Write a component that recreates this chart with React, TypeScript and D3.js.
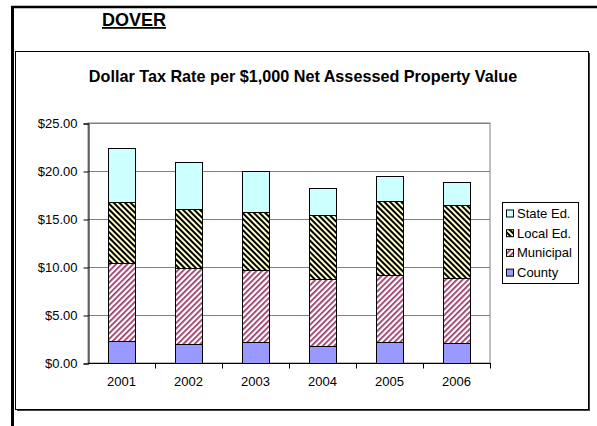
import React, { useEffect, useRef } from 'react';
import * as d3 from 'd3';

const years = ['2001', '2002', '2003', '2004', '2005', '2006'];
const county = [2.25, 1.98, 2.19, 1.80, 2.15, 2.04];
const municipal = [8.17, 7.92, 7.50, 6.91, 7.05, 6.77];
const localEd = [6.36, 6.14, 6.00, 6.71, 7.68, 7.65];
const stateEd = [5.62, 4.86, 4.27, 2.81, 2.63, 2.35];
const seriesNames = ['County', 'Municipal', 'Local Ed.', 'State Ed.'];
const legendOrder = ['State Ed.', 'Local Ed.', 'Municipal', 'County'];
const yTicks = [0, 5, 10, 15, 20, 25];

const fills: Record<string, string> = {
    'County': '#9999ff',
    'Municipal': 'url(#muni)',
    'Local Ed.': 'url(#local)',
    'State Ed.': '#ccffff'
};

const font = '"Liberation Sans", Arial, sans-serif';

export default function App() {
    const ref = useRef<SVGSVGElement>(null);

    useEffect(() => {
        const width = 597;
        const height = 426;
        const margin = { left: 88, right: 107, top: 123, bottom: 63 };

        const svg = d3.select(ref.current);
        svg.selectAll('*').remove();

        // patterns for hatched series
        const defs = svg.append('defs');
        const muni = defs.append('pattern').attr('id', 'muni')
            .attr('patternUnits', 'userSpaceOnUse')
            .attr('width', 4).attr('height', 4)
            .attr('patternTransform', 'rotate(45)');
        muni.append('rect').attr('width', 4).attr('height', 4).attr('fill', '#fff');
        muni.append('rect').attr('width', 1.7).attr('height', 4).attr('fill', '#993366');

        const local = defs.append('pattern').attr('id', 'local')
            .attr('patternUnits', 'userSpaceOnUse')
            .attr('width', 4).attr('height', 4)
            .attr('patternTransform', 'rotate(-45)');
        local.append('rect').attr('width', 4).attr('height', 4).attr('fill', '#ffffcc');
        local.append('rect').attr('width', 2).attr('height', 4).attr('fill', '#000');

        // page frame
        svg.append('line').attr('x1', 11).attr('x2', width).attr('y1', 7).attr('y2', 7)
            .attr('stroke', '#000').attr('stroke-width', 2.5);
        svg.append('line').attr('x1', 12.5).attr('x2', 12.5).attr('y1', 6).attr('y2', height)
            .attr('stroke', '#000').attr('stroke-width', 3);

        svg.append('text')
            .attr('x', 134).attr('y', 26)
            .attr('text-anchor', 'middle')
            .attr('font-family', font).attr('font-size', 18).attr('font-weight', 'bold')
            .attr('text-decoration', 'underline')
            .text('DOVER');

        // chart box with shadow
        svg.append('rect').attr('x', 17).attr('y', 53).attr('width', 573).attr('height', 358)
            .attr('fill', '#444');
        svg.append('rect').attr('x', 15.5).attr('y', 51.5).attr('width', 573).attr('height', 358)
            .attr('fill', '#fff').attr('stroke', '#000');

        svg.append('text')
            .attr('x', 303).attr('y', 82)
            .attr('text-anchor', 'middle')
            .attr('font-family', font).attr('font-size', 16.2).attr('font-weight', 'bold')
            .text('Dollar Tax Rate per $1,000 Net Assessed Property Value');

        const x = d3.scaleBand().domain(years)
            .range([margin.left, width - margin.right]).padding(0);
        const y = d3.scaleLinear().domain([0, 25])
            .range([height - margin.bottom, margin.top]);

        const g = svg.append('g');

        // plot area border + gridlines
        g.append('rect')
            .attr('x', margin.left).attr('y', margin.top)
            .attr('width', width - margin.right - margin.left)
            .attr('height', height - margin.bottom - margin.top)
            .attr('fill', 'none').attr('stroke', '#808080');
        g.selectAll('.grid').data(yTicks).enter().append('line')
            .attr('x1', margin.left).attr('x2', width - margin.right)
            .attr('y1', (d) => Math.round(y(d)) + 0.5).attr('y2', (d) => Math.round(y(d)) + 0.5)
            .attr('stroke', '#808080');

        // stacked bars
        const rows = years.map((yr, i) => ({
            year: yr,
            'County': county[i],
            'Municipal': municipal[i],
            'Local Ed.': localEd[i],
            'State Ed.': stateEd[i]
        }));
        const stacked = d3.stack<any>().keys(seriesNames)(rows);
        const bw = x.bandwidth() * 0.4;

        stacked.forEach((layer) => {
            g.selectAll(null).data(layer).enter().append('rect')
                .attr('x', (d: any) => Math.round(x(d.data.year)! + x.bandwidth() * 0.3) + 0.5)
                .attr('width', Math.round(bw))
                .attr('y', (d) => Math.round(y(d[1])) + 0.5)
                .attr('height', (d) => Math.round(y(d[0])) - Math.round(y(d[1])))
                .attr('fill', fills[layer.key])
                .attr('stroke', '#000').attr('stroke-width', 1);
        });

        // axes
        const yAxis = d3.axisLeft(y).tickValues(yTicks)
            .tickSize(5).tickPadding(6)
            .tickFormat((d) => '$' + d3.format('.2f')(+d));
        const ya = svg.append('g').attr('transform', `translate(${margin.left + 0.5},0.5)`).call(yAxis);
        ya.select('.domain').attr('stroke', '#000');
        ya.selectAll('text').attr('font-family', font).attr('font-size', 13).attr('fill', '#000');

        const xa = svg.append('g').attr('transform', `translate(0,${Math.round(y(0)) + 0.5})`);
        xa.append('line').attr('x1', margin.left).attr('x2', width - margin.right + 1)
            .attr('stroke', '#000');
        xa.selectAll('.tk').data(years).enter().append('line')
            .attr('x1', (d) => Math.round(x(d)! + x.bandwidth()) + 0.5)
            .attr('x2', (d) => Math.round(x(d)! + x.bandwidth()) + 0.5)
            .attr('y1', 0).attr('y2', 5).attr('stroke', '#000');
        xa.selectAll('.lbl').data(years).enter().append('text')
            .attr('x', (d) => x(d)! + x.bandwidth() / 2)
            .attr('y', 22)
            .attr('text-anchor', 'middle')
            .attr('font-family', font).attr('font-size', 13)
            .text((d) => d);

        // legend
        const lg = svg.append('g');
        lg.append('rect').attr('x', 502.5).attr('y', 202.5).attr('width', 76).attr('height', 81)
            .attr('fill', '#fff').attr('stroke', '#000');
        const items = lg.selectAll('.item').data(legendOrder).enter().append('g')
            .attr('transform', (d, i) => `translate(506,${213.5 + i * 19.7})`);
        items.append('rect').attr('x', 0.5).attr('y', -3.5).attr('width', 7).attr('height', 7)
            .attr('fill', (d) => fills[d]).attr('stroke', '#000');
        items.append('text').attr('x', 11).attr('y', 0).attr('dy', '0.35em')
            .attr('font-family', font).attr('font-size', 13)
            .text((d) => d);
    }, []);

    return (
        <svg ref={ref} width={597} height={426}
            style={{ position: 'absolute', left: 0, top: 0, background: '#fff' }} />
    );
}
